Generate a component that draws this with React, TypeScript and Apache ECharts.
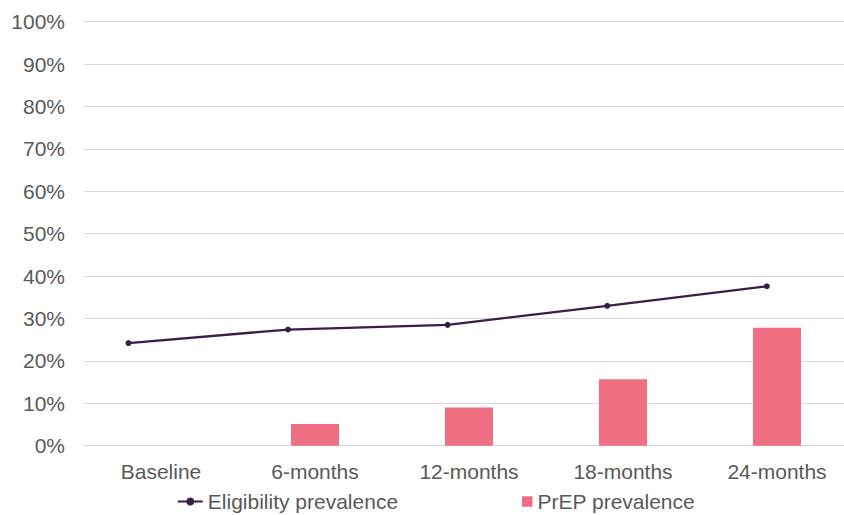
import React, { useEffect, useRef } from "react";
import * as echarts from "echarts";

const categories = ["Baseline", "6-months", "12-months", "18-months", "24-months"];
const eligibility = [0.242, 0.274, 0.285, 0.330, 0.376];
const prep = [null, 0.051, 0.090, 0.157, 0.278];
const yTicks = [0, 0.1, 0.2, 0.3, 0.4, 0.5, 0.6, 0.7, 0.8, 0.9, 1];

const FONT = "'Liberation Sans', Arial, sans-serif";
const TEXT = "#595959";
const GRID = "#d9d9d9";
const LINE = "#3a1d48";
const BAR = "#f06e82";
const FS = 21;

export default function App() {
  const ref = useRef<HTMLDivElement>(null);
  useEffect(() => {
    if (!ref.current) return;
    const chart = echarts.init(ref.current, undefined, { renderer: "svg" });
    chart.setOption({
      animation: false,
      backgroundColor: "#ffffff",
      textStyle: { fontFamily: FONT },
      grid: [
        { left: 84, width: 770, top: 21.7, height: 424 },
        { left: 128.5, width: 638.3, top: 21.7, height: 424 },
      ],
      xAxis: [
        {
          type: "category",
          gridIndex: 0,
          data: categories,
          axisLine: { show: true, lineStyle: { color: GRID, width: 1 } },
          axisTick: { show: false },
          axisLabel: { color: TEXT, fontSize: FS, fontFamily: FONT, margin: 15 },
        },
        {
          type: "category",
          gridIndex: 1,
          data: categories,
          boundaryGap: false,
          show: false,
        },
      ],
      yAxis: [
        {
          type: "value",
          gridIndex: 0,
          min: 0,
          max: 1,
          interval: 0.1,
          axisLine: { show: false },
          axisTick: { show: false },
          splitLine: { show: true, lineStyle: { color: GRID, width: 1 } },
          axisLabel: {
            color: TEXT,
            fontSize: FS,
            fontFamily: FONT,
            margin: 19,
            formatter: (v: number) => {
              const t = yTicks.find((k) => Math.abs(k - v) < 1e-6);
              return Math.round((t ?? v) * 100) + "%";
            },
          },
        },
        { type: "value", gridIndex: 1, min: 0, max: 1, show: false },
      ],
      legend: [
        {
          data: ["Eligibility prevalence"],
          left: 176.8,
          top: 491,
          padding: 0,
          itemWidth: 25,
          itemHeight: 10,
          itemGap: 0,
          textStyle: { color: TEXT, fontSize: FS, fontFamily: FONT },
        },
        {
          data: ["PrEP prevalence"],
          left: 522,
          top: 491,
          padding: 0,
          itemWidth: 10.5,
          itemHeight: 10.5,
          icon: "rect",
          textStyle: { color: TEXT, fontSize: FS, fontFamily: FONT },
        },
      ],
      series: [
        {
          name: "PrEP prevalence",
          type: "bar",
          xAxisIndex: 0,
          yAxisIndex: 0,
          data: prep,
          barWidth: 48,
          itemStyle: { color: BAR },
        },
        {
          name: "Eligibility prevalence",
          type: "line",
          xAxisIndex: 1,
          yAxisIndex: 1,
          data: eligibility,
          symbol: "circle",
          symbolSize: 6,
          lineStyle: { color: LINE, width: 2.25 },
          itemStyle: { color: LINE },
        },
      ],
    });
    return () => chart.dispose();
  }, []);
  return (
    <div
      style={{
        position: "fixed",
        left: 0,
        top: 0,
        width: 844,
        height: 515,
        overflow: "hidden",
        background: "#ffffff",
      }}
    >
      <div ref={ref} style={{ width: 860, height: 515 }} />
    </div>
  );
}
